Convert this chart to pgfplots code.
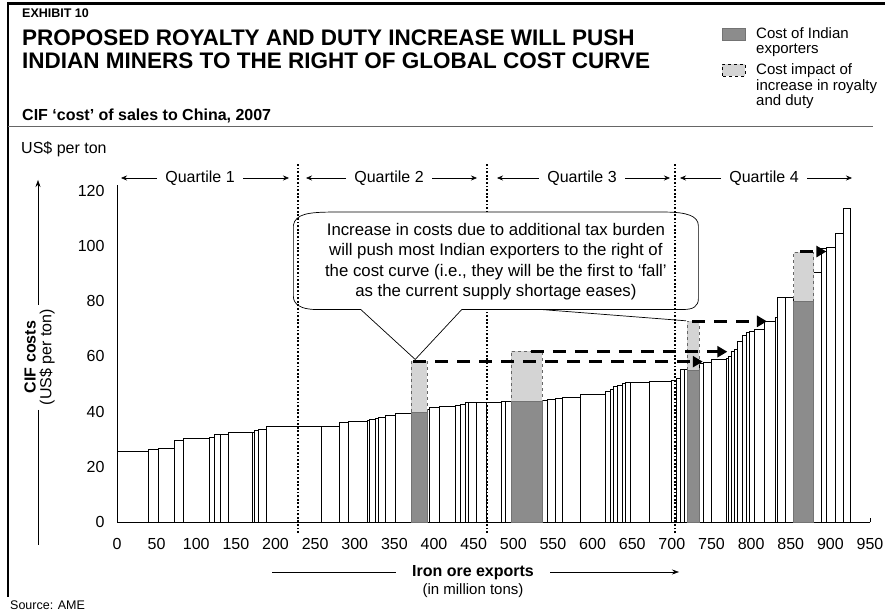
\documentclass[border=0pt]{standalone}
\usepackage{fontspec}
\setmainfont{Liberation Sans}
\usepackage{pgfplots}
\pgfplotsset{compat=1.18}
\usetikzlibrary{arrows.meta}
\definecolor{darkbar}{RGB}{140,140,140}
\definecolor{lightbar}{RGB}{212,212,212}
\newcommand{\fs}[2]{\fontsize{#1}{#2}\selectfont}
\begin{document}
\begin{tikzpicture}[x=1pt,y=1pt]
\path[use as bounding box] (0,0) rectangle (888,613);
\begin{axis}[
  at={(117pt,91pt)}, anchor=south west,
  scale only axis, width=753pt, height=336.7pt,
  xmin=0, xmax=950, ymin=0, ymax=122,
  axis x line=bottom, axis y line=left,
  axis line style={-, line width=0.8pt, black},
  every outer x axis line/.append style={-},
  every outer y axis line/.append style={-},
  xtick={0,50,...,950}, ytick={0,20,...,120},
  tick align=inside, major tick length=4pt,
  xtick style={black, line width=0.6pt},
  ytick style={draw=none},
  /pgf/number format/assume math mode=true,
  every tick label/.append style={font=\fs{16}{19}},
  xticklabel style={yshift=-13pt},
  yticklabel style={xshift=-9pt},
  clip=false,
]
% all producers (x = start of bar, height); last point closes the last bar
\addplot[ybar interval, fill=white, draw=black, line width=0.6pt] table {
x y
0 25.6
40 26.4
51.6 26.8
72.8 29.5
83.6 30.4
117 30.7
122.4 31.6
130.9 31.9
140.3 32.4
170.3 32.6
173.6 33.1
177.9 33.7
188 34.8
257.8 34.8
280.9 36.1
292.1 36.5
315.4 36.7
318.4 37.1
325.9 37.5
330 37.8
339.1 38.5
350.9 39.5
371.3 39.9
391.3 41.0
394.6 41.6
407.1 41.9
426.6 42.3
432.9 42.5
439.1 43.2
443.3 43.2
453.8 43.2
466 43.4
485 43.8
490.4 43.9
497.5 43.8
536.3 44.0
543.4 44.5
552.4 44.7
562.1 45.3
585 46.3
616.3 47.5
622.5 48.2
625.9 49.1
630.9 49.6
637.8 50.4
641.3 50.5
647.5 50.5
671.6 50.8
699.5 51.4
705.9 51.9
710.9 55.5
716.3 55.5
719.6 54.9
734.1 57.5
739.1 57.9
749.5 58.9
768.4 59.3
771.5 60.1
774.6 61.9
778.8 62.5
782.1 65.6
789.1 67.8
793.4 68.6
797.5 69.2
803.8 69.8
817.1 72.8
830 74.0
832.9 81.3
843.4 81.3
853.8 79.8
878.8 90.4
889.1 99.1
894.6 99.5
905.9 104.7
916.3 113.8
925.4 0
};
% cost after royalty and duty increase (light) and current cost (dark), Indian exporters
\addplot[ybar interval, fill=lightbar, draw=black!60, dashed, line width=0.6pt] coordinates {(371.3,58.2) (391.3,58.2)};
\addplot[ybar interval, fill=darkbar, draw=black!55, line width=0.6pt] coordinates {(371.3,39.9) (391.3,39.9)};
\addplot[ybar interval, fill=lightbar, draw=black!60, dashed, line width=0.6pt] coordinates {(497.5,61.8) (536.3,61.8)};
\addplot[ybar interval, fill=darkbar, draw=black!55, line width=0.6pt] coordinates {(497.5,43.8) (536.3,43.8)};
\addplot[ybar interval, fill=lightbar, draw=black!60, dashed, line width=0.6pt] coordinates {(719.6,72.8) (734.1,72.8)};
\addplot[ybar interval, fill=darkbar, draw=black!55, line width=0.6pt] coordinates {(719.6,54.9) (734.1,54.9)};
\addplot[ybar interval, fill=lightbar, draw=black!60, dashed, line width=0.6pt] coordinates {(853.8,97.9) (878.8,97.9)};
\addplot[ybar interval, fill=darkbar, draw=black!55, line width=0.6pt] coordinates {(853.8,79.8) (878.8,79.8)};
% shift arrows
\draw[line width=3.3pt, dash pattern=on 13pt off 9pt, -{Triangle[length=10pt,width=11pt]}] (axis cs:374,58.1) -- (axis cs:739,58.1);
\draw[line width=3.3pt, dash pattern=on 13pt off 9pt, -{Triangle[length=10pt,width=11pt]}] (axis cs:522,61.7) -- (axis cs:770,61.7);
\draw[line width=3.3pt, dash pattern=on 13pt off 9pt, -{Triangle[length=10pt,width=11pt]}] (axis cs:726,72.7) -- (axis cs:820,72.7);
\draw[line width=3.3pt, dash pattern=on 13pt off 9pt, -{Triangle[length=10pt,width=11pt]}] (axis cs:862,98.0) -- (axis cs:895,98.0);
% quartile 3 boundary (behind callout)
\draw[line width=1.8pt, dash pattern=on 1.8pt off 1.8pt] (axis cs:467,-4) -- (axis cs:467,130);
% callout
\draw[fill=white, line width=0.7pt]
  (axis cs:222.5,107.5) .. controls (axis cs:225,111.6) and (axis cs:241.25,112.3) .. (axis cs:272.5,112.3)
  -- (axis cs:691.25,112.3) .. controls (axis cs:718.75,112.3) and (axis cs:733.5,110.9) .. (axis cs:733.5,107.3)
  -- (axis cs:733.5,81.0) .. controls (axis cs:733.5,78.2) and (axis cs:727.25,77.0) .. (axis cs:714.75,77.0)
  -- (axis cs:435,77.0) -- (axis cs:376.25,58.9) -- (axis cs:307.5,77.0)
  -- (axis cs:251.25,77.0) .. controls (axis cs:231.25,77.0) and (axis cs:222.5,79.0) .. (axis cs:222.5,81.8)
  -- cycle;
\draw[line width=0.7pt] (axis cs:535,77.0) -- (axis cs:718,72.9);
\node[align=center, font=\fs{16.8}{20.5}] at (axis cs:478,94.3)
  {Increase in costs due to additional tax burden\\
   will push most Indian exporters to the right of\\
   the cost curve (i.e., they will be the first to ‘fall’\\
   as the current supply shortage eases)};
% quartile 1/2 and 3/4 boundaries
\draw[line width=1.8pt, dash pattern=on 1.8pt off 1.8pt] (axis cs:228,-4) -- (axis cs:228,130);
\draw[line width=1.8pt, dash pattern=on 1.8pt off 1.8pt] (axis cs:704,-4) -- (axis cs:704,130);
\end{axis}
% quartile labels
\begin{scope}[font=\fs{16}{19}, line width=0.6pt, arr/.style={-{Stealth[length=6pt,width=5pt]}}]
\node at (200,435) {Quartile 1};
\draw[arr] (157,435) -- (121,435); \draw[arr] (243,435) -- (289,435);
\node at (389,435) {Quartile 2};
\draw[arr] (346,435) -- (306,435); \draw[arr] (432,435) -- (477,435);
\node at (582,435) {Quartile 3};
\draw[arr] (539,435) -- (497,435); \draw[arr] (625,435) -- (670,435);
\node at (764,435) {Quartile 4};
\draw[arr] (721,435) -- (680,435); \draw[arr] (807,435) -- (852,435);
\end{scope}
% frame and headings
\draw[line width=3pt] (7,609.5) -- (885,609.5);
\draw[line width=2pt] (8,611) -- (8,16);
\draw[black!60, line width=1pt] (8,486) -- (873,486);
\node[anchor=base west, font=\bfseries\fs{12.5}{15}, inner sep=0] at (22,595) {EXHIBIT 10};
\node[anchor=base west, font=\bfseries\fs{22.5}{26}, inner sep=0] at (22,567) {PROPOSED ROYALTY AND DUTY INCREASE WILL PUSH};
\node[anchor=base west, font=\bfseries\fs{22.5}{26}, inner sep=0] at (22,544) {INDIAN MINERS TO THE RIGHT OF GLOBAL COST CURVE};
\node[anchor=base west, font=\bfseries\fs{16}{19}, inner sep=0] at (22,492) {CIF ‘cost’ of sales to China, 2007};
\node[anchor=base west, font=\fs{16}{19}, inner sep=0] at (21,459) {US\$ per ton};
% legend
\filldraw[fill=darkbar, draw=black!55, line width=0.6pt] (722,573) rectangle (745,585);
\filldraw[fill=lightbar, draw=black, dashed, line width=0.6pt] (722,537) rectangle (745,549);
\begin{scope}[font=\fs{15}{18}, inner sep=0]
\node[anchor=base west] at (756,574) {Cost of Indian};
\node[anchor=base west] at (756,559) {exporters};
\node[anchor=base west] at (756,538) {Cost impact of};
\node[anchor=base west] at (756,522) {increase in royalty};
\node[anchor=base west] at (756,507) {and duty};
\end{scope}
% axis titles
\node[rotate=90, font=\bfseries\fs{16}{19}] at (30,256) {CIF costs};
\node[rotate=90, font=\fs{16}{19}] at (47,256) {(US\$ per ton)};
\draw[line width=0.6pt, -{Stealth[length=7pt,width=5pt]}] (38,308) -- (38,433);
\draw[line width=0.6pt] (38,203) -- (38,68);
\node[font=\bfseries\fs{16}{19}] at (473,40) {Iron ore exports};
\node[font=\fs{15}{18}] at (473,22) {(in million tons)};
\draw[line width=0.6pt] (272,41) -- (396,41);
\draw[line width=0.6pt, -{Stealth[length=7pt,width=5pt]}] (550,41) -- (679,41);
\node[anchor=base west, font=\fs{12.5}{15}, inner sep=0] at (10,4) {Source: AME};
\end{tikzpicture}
\end{document}
